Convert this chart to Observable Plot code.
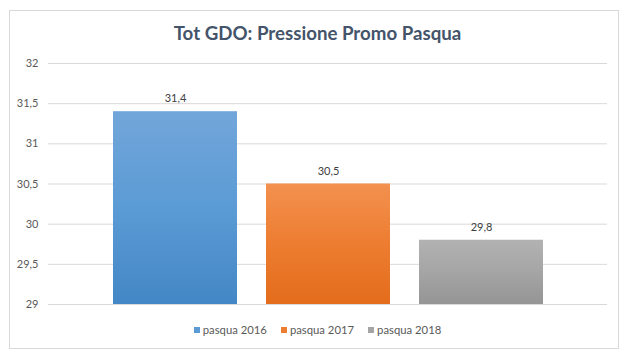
<!DOCTYPE html>
<html>
<head>
<meta charset="utf-8">
<script src="https://cdn.jsdelivr.net/npm/d3@7"></script>
<script src="https://cdn.jsdelivr.net/npm/@observablehq/plot@0.6"></script>
<style>
  html, body { margin: 0; padding: 0; background: #fff; }
  #wrap { position: relative; width: 635px; height: 362px; overflow: hidden; font-family: Lato, "Open Sans", sans-serif; }
  #frame { position: absolute; left: 9px; top: 10px; width: 610px; height: 339px; border: 1px solid #d9d9d9; box-sizing: border-box; }
  #title { position: relative; height: 48px; line-height: 48px; padding-top: 9px; box-sizing: border-box; text-align: center; font-size: 18.7px; font-weight: bold; color: #44546a; }
  #chart svg { display: block; }
  #legend { position: relative; height: 24px; line-height: 24px; text-align: center; font-size: 11.3px; color: #595959; }
  #legend span.item { display: inline-block; margin: 0 7px; }
  #legend span.sw { display: inline-block; width: 6px; height: 6px; margin-right: 3px; vertical-align: 1px; }
</style>
</head>
<body>
<div id="wrap">
  <div id="frame"></div>
  <div id="title">Tot GDO: Pressione Promo Pasqua</div>
  <div id="chart"></div>
  <div id="legend"></div>
</div>
<script>
const series = ["pasqua 2016", "pasqua 2017", "pasqua 2018"];
const values = [31.4, 30.5, 29.8];
const colors = ["#5b9bd5", "#ed7d31", "#a5a5a5"];
const gradTop = ["#72a6da", "#f3914f", "#b2b2b2"];
const gradBottom = ["#4487c6", "#e46c1c", "#959595"];
const yTicks = [29, 29.5, 30, 30.5, 31, 31.5, 32];

const data = series.map((s, i) => ({series: s, value: values[i], idx: i}));
const fmt = v => String(v).replace(".", ",");

const plot = Plot.plot({
  width: 635,
  height: 270,
  marginTop: 15,
  marginBottom: 14,
  marginLeft: 48,
  marginRight: 28,
  style: {fontFamily: "Lato, 'Open Sans', sans-serif", fontSize: "11px", color: "#595959", background: "transparent"},
  x: {domain: series, paddingInner: 0.192, paddingOuter: 0.417, axis: null},
  y: {domain: [29, 32], ticks: yTicks, tickFormat: fmt, grid: false, label: null},
  marks: [
    Plot.ruleY(yTicks, {stroke: "#d9d9d9", strokeWidth: 1}),
    Plot.axisY({ticks: yTicks, tickFormat: fmt, tickSize: 0, tickPadding: 10, label: null, fill: "#595959"}),
    ...data.map(d => Plot.barY([d], {x: "series", y1: 29, y2: "value", fill: `url(#grad${d.idx})`})),
    Plot.text(data, {x: "series", y: "value", text: d => fmt(d.value), dy: -13, fill: "#404040", fontSize: 11})
  ]
});

// gradients
const svg = d3.select(plot);
const defs = svg.insert("defs", ":first-child");
series.forEach((s, i) => {
  const g = defs.append("linearGradient").attr("id", "grad" + i)
    .attr("x1", 0).attr("y1", 0).attr("x2", 0).attr("y2", 1);
  g.append("stop").attr("offset", "0%").attr("stop-color", gradTop[i]);
  g.append("stop").attr("offset", "50%").attr("stop-color", colors[i]);
  g.append("stop").attr("offset", "100%").attr("stop-color", gradBottom[i]);
});
document.getElementById("chart").appendChild(plot);

const legend = d3.select("#legend");
series.forEach((s, i) => {
  const it = legend.append("span").attr("class", "item");
  it.append("span").attr("class", "sw").style("background", colors[i]);
  it.append("span").text(s);
});
</script>
</body>
</html>
